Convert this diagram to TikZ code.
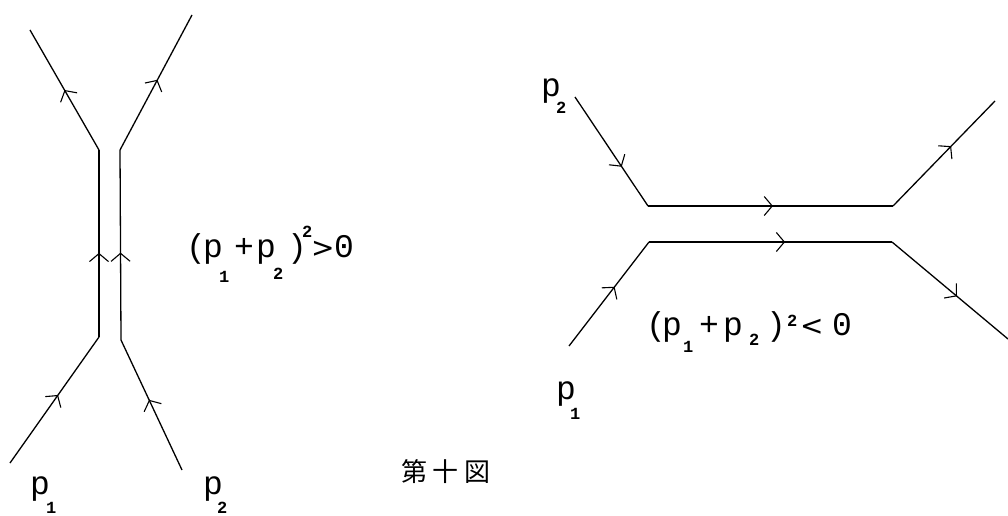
\documentclass[tikz,border=0pt]{standalone}
\usepackage{fontspec}
\setmainfont{Liberation Mono}
\newfontfamily\cjk{Noto Sans CJK JP}
\newfontfamily\relfont{DejaVu Sans}
\usetikzlibrary{arrows.meta,decorations.markings}
\newcommand\glyph[2]{\makebox[#1pt][l]{#2}}
\newcommand\shiftsub[2]{\raisebox{#1pt}{\fontsize{17}{17}\selectfont\bfseries #2}}
\newcommand\rel[1]{{\relfont\fontsize{28}{28}\selectfont #1}}
\tikzset{
  wl/.style={line width=1.3pt},
  marr/.style={postaction={decorate},decoration={markings,
    mark=at position #1 with {\arrow[line width=1.1pt]{Straight Barb[length=8pt,width=19pt]}}}},
  lab/.style={anchor=base west,inner sep=0pt,font=\fontsize{33}{33}\selectfont},
}
\begin{document}
\begin{tikzpicture}[x=1pt,y=-1pt]
\useasboundingbox (0,0) rectangle (1008,516);
% left diagram
\coordinate (L1) at (10,463);
\coordinate (LJ1) at (99,337);
\coordinate (LV1) at (99,150);
\coordinate (LT1) at (30,30);
\coordinate (L2) at (182,470);
\coordinate (LJ2) at (121,340);
\coordinate (LV2) at (120,150);
\coordinate (LT2) at (192,15);
\draw[wl,marr=0.54] (L1) -- (LJ1);
\draw[wl,marr=0.45] (LJ1) -- (LV1);
\draw[wl,marr=0.5] (LV1) -- (LT1);
\draw[wl,marr=0.54] (L2) -- (LJ2);
\draw[wl,marr=0.46] (LJ2) -- (LV2);
\draw[wl,marr=0.52] (LV2) -- (LT2);
% right diagram
\coordinate (R2) at (575,97);
\coordinate (RJ2) at (648,206);
\coordinate (RJ3) at (893,206);
\coordinate (RT) at (995,101);
\coordinate (R1) at (569,346);
\coordinate (RJ1) at (649,242);
\coordinate (RJ4) at (892,242);
\coordinate (RB) at (1008,339);
\draw[wl,marr=0.64] (R2) -- (RJ2);
\draw[wl,marr=0.51] (RJ2) -- (RJ3);
\draw[wl,marr=0.57] (RJ3) -- (RT);
\draw[wl,marr=0.57] (R1) -- (RJ1);
\draw[wl,marr=0.56] (RJ1) -- (RJ4);
\draw[wl,marr=0.56] (RJ4) -- (RB);
% labels
\node[lab] (lp1) at (30,494) {\glyph{16}{p}\shiftsub{-19}{1}};
\node[lab] (lp2) at (203,494) {\glyph{14}{p}\shiftsub{-19}{2}};
\node[lab] (rp2) at (541,97) {\glyph{15}{p}\shiftsub{-17}{2}};
\node[lab] (rp1) at (556,399) {\glyph{14}{p}\shiftsub{-20}{1}};
\node[lab] (fl) at (186,257) {\glyph{17}{(}\glyph{16}{p}\glyph{15}{\shiftsub{-25}{1}}\glyph{22}{+}\glyph{17}{p}\glyph{14}{\shiftsub{-22}{2}}\glyph{15}{)}\glyph{9}{\shiftsub{20}{2}}\glyph{23}{\rel{>}}0};
\node[lab] (fr) at (646,335) {\glyph{16}{(}\glyph{21}{p}\glyph{16}{\shiftsub{-17}{1}}\glyph{24}{+}\glyph{26}{p}\glyph{17}{\shiftsub{-10}{2}}\glyph{21}{)}\glyph{13}{\shiftsub{9}{2}}\glyph{32}{\rel{<}}0};
\node[inner sep=0pt] (cap) at (446,472) {\cjk\fontsize{26}{26}\selectfont 第\hspace{6pt}十\hspace{6pt}図};
\end{tikzpicture}
\end{document}
